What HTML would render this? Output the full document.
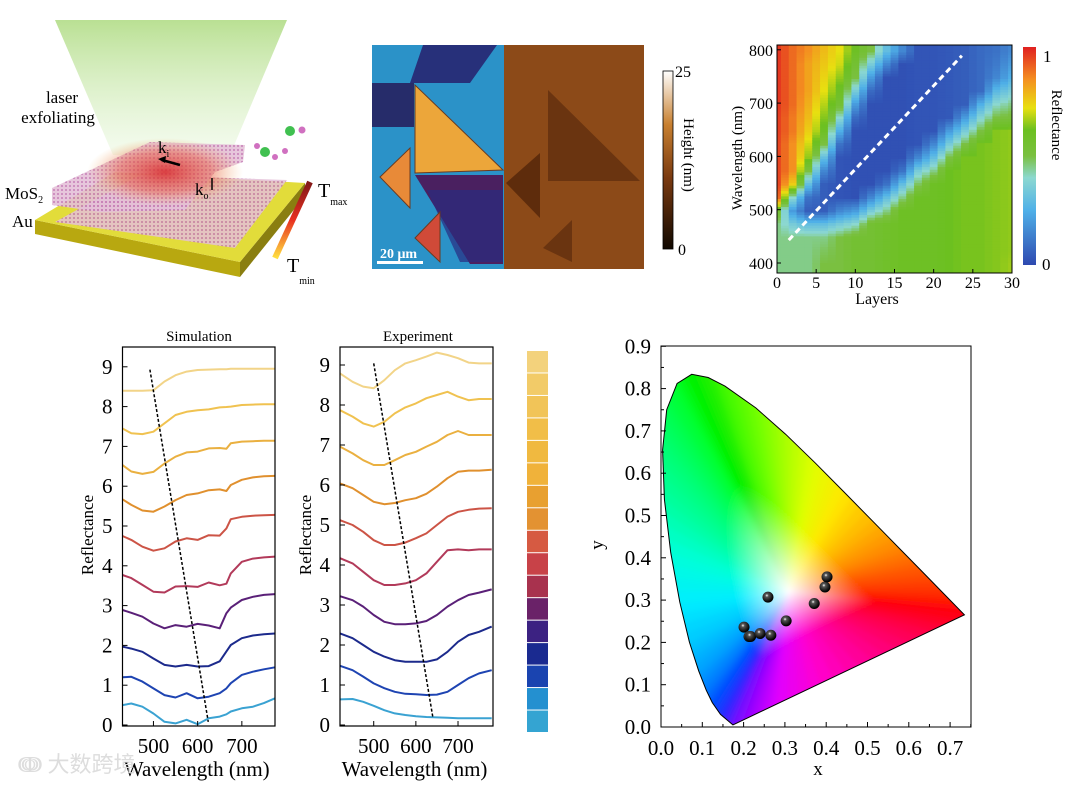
<!DOCTYPE html>
<html><head><meta charset="utf-8"><style>
html,body{margin:0;padding:0;background:#fff;}
svg text{font-family:"Liberation Serif",serif;}
</style></head><body>
<svg id="fig" width="1068" height="781" viewBox="0 0 1068 781" xmlns="http://www.w3.org/2000/svg">
<defs>
<linearGradient id="cone" x1="0" y1="0" x2="0" y2="1"><stop offset="0" stop-color="#a8d878" stop-opacity="0.8"/><stop offset="1" stop-color="#e0f4d0" stop-opacity="0.35"/></linearGradient>
<radialGradient id="hot" cx="0.5" cy="0.5" r="0.5"><stop offset="0" stop-color="#d82828" stop-opacity="0.85"/><stop offset="0.6" stop-color="#e86040" stop-opacity="0.5"/><stop offset="1" stop-color="#f0b060" stop-opacity="0"/></radialGradient>
<pattern id="lat" width="4" height="4" patternUnits="userSpaceOnUse"><rect width="4" height="4" fill="#e4c0d8"/><circle cx="2" cy="2" r="1" fill="#c070b0"/></pattern>
<linearGradient id="tbar" x1="0" y1="1" x2="0" y2="0"><stop offset="0" stop-color="#ffe040"/><stop offset="0.5" stop-color="#e83020"/><stop offset="1" stop-color="#801818"/></linearGradient>
<linearGradient id="hbar" x1="0" y1="1" x2="0" y2="0"><stop offset="0" stop-color="#100800"/><stop offset="0.4" stop-color="#7a3a10"/><stop offset="0.7" stop-color="#c88030"/><stop offset="1" stop-color="#ffffff"/></linearGradient>
<linearGradient id="rbar" x1="0" y1="1" x2="0" y2="0"><stop offset="0" stop-color="#2e49b0"/><stop offset="0.25" stop-color="#4fb0e8"/><stop offset="0.4" stop-color="#8cd8d0"/><stop offset="0.5" stop-color="#7ac040"/><stop offset="0.62" stop-color="#6cc020"/><stop offset="0.72" stop-color="#e8e010"/><stop offset="0.85" stop-color="#f49020"/><stop offset="1" stop-color="#e02020"/></linearGradient>
<clipPath id="hmclip"><rect x="777" y="45" width="235" height="228"/></clipPath>
<clipPath id="cieclip"><path id="locusclip" d=""/></clipPath>
<filter id="blur2"><feGaussianBlur stdDeviation="2.5"/></filter>
</defs>

<g>
<polygon points="55,20 287,20 230,155 113,155" fill="url(#cone)"/>
<text x="62" y="103" font-size="17" text-anchor="middle">laser</text>
<text x="58" y="123" font-size="17" text-anchor="middle">exfoliating</text>
<polygon points="35,220 240,262 240,277 35,234" fill="#b8a810"/>
<polygon points="240,262 305,183 305,196 240,277" fill="#8a7e10"/>
<polygon points="35,220 115,172 305,183 240,262" fill="#e2dc3a"/>
<polygon points="55,222 140,175 287,180 235,248" fill="url(#lat)" opacity="0.85"/>
<polygon points="52,188 150,142 245,145 243,162 215,172 185,210 100,212 52,205" fill="url(#lat)" opacity="0.9"/>
<ellipse cx="165" cy="172" rx="78" ry="34" fill="url(#hot)"/>
<line x1="180" y1="165" x2="162" y2="160" stroke="#000" stroke-width="2.5"/>
<polygon points="158,159 166,156 165,163" fill="#000"/>
<text x="158" y="153" font-size="17">k<tspan font-size="10" dy="4">i</tspan></text>
<text x="195" y="195" font-size="17">k<tspan font-size="10" dy="4">o</tspan></text>
<line x1="212" y1="178" x2="212" y2="190" stroke="#000" stroke-width="1.5"/>
<text x="5" y="199" font-size="17">MoS<tspan font-size="10" dy="4">2</tspan></text>
<text x="12" y="227" font-size="17">Au</text>
<g><circle cx="290" cy="131" r="5" fill="#40c050"/><circle cx="302" cy="130" r="3.5" fill="#d070c0"/><circle cx="285" cy="151" r="3" fill="#d070c0"/><circle cx="265" cy="152" r="5" fill="#40c050"/><circle cx="257" cy="146" r="3" fill="#d070c0"/><circle cx="275" cy="157" r="3" fill="#d070c0"/></g>
<line x1="275" y1="258" x2="310" y2="182" stroke="url(#tbar)" stroke-width="6"/>
<text x="318" y="197" font-size="20">T<tspan font-size="10" dy="8">max</tspan></text>
<text x="287" y="272" font-size="20">T<tspan font-size="10" dy="12">min</tspan></text>
</g>

<g>
<rect x="372" y="45" width="132" height="224" fill="#2b92c8"/>
<polygon points="423,45 497,45 470,83 410,83" fill="#27307a"/>
<rect x="372" y="83" width="42" height="44" fill="#262c6a"/>
<polygon points="415,85 415,173 503,170" fill="#eca63a" stroke="#6a3a20" stroke-width="1"/>
<polygon points="415,175 503,175 503,264 470,264" fill="#4a2060"/>
<polygon points="427,190 503,190 503,262 460,262" fill="#2a2c80" opacity="0.7"/>
<polygon points="380,177 410,148 410,208" fill="#e88a38" stroke="#6a3a20"/>
<polygon points="415,238 440,212 440,262" fill="#d04a38" stroke="#6a3a20"/>
<rect x="377" y="261" width="46" height="3" fill="#fff"/>
<text x="380" y="258" font-size="14" font-weight="bold" fill="#fff">20 μm</text>
<rect x="504" y="45" width="140" height="224" fill="#8c4a18"/>
<polygon points="548,90 548,181 640,181" fill="#6a3410"/>
<polygon points="506,183 540,153 540,218" fill="#5e2c0c"/>
<polygon points="543,248 572,220 572,262" fill="#6a3410"/>
<rect x="663" y="71" width="10" height="178" fill="url(#hbar)" stroke="#000" stroke-width="0.8"/>
<text x="675" y="77" font-size="16">25</text>
<text x="678" y="255" font-size="16">0</text>
<text x="0" y="0" font-size="15" transform="translate(684,155) rotate(90)" text-anchor="middle">Height (nm)</text>
</g>

<g id="heat"></g>
<g id="sim"></g>
<g id="exp"></g>
<g id="swatch"></g>
<g id="cie"></g>
<text x="18" y="772" font-size="22" fill="#ddd" font-family="'Noto Sans CJK SC',sans-serif">ↈ 大数跨境</text>
</svg>
<script>
// ---------- Heatmap data ----------
const hmLayers=[0,2,4,6,8,10,12,14,16,18,20,22,24,26,28,30];
const hmWaves=[800,775,750,725,700,675,650,625,600,575,550,525,500,475,450,425,400];
const hmValues=[
[0.97,0.97,0.97,0.97,0.97,0.96,0.96,0.95,0.95,0.95,0.95,0.9,0.55,0.45,0.45,0.45,0.45],
[0.9,0.9,0.9,0.9,0.9,0.88,0.88,0.85,0.85,0.85,0.75,0.4,0.2,0.35,0.45,0.45,0.45],
[0.85,0.82,0.82,0.82,0.8,0.78,0.75,0.7,0.65,0.5,0.3,0.1,0.05,0.3,0.45,0.45,0.45],
[0.78,0.76,0.74,0.72,0.68,0.64,0.6,0.5,0.3,0.15,0.05,0.05,0.05,0.3,0.45,0.48,0.5],
[0.72,0.7,0.65,0.6,0.55,0.4,0.25,0.1,0.03,0.03,0.03,0.03,0.15,0.35,0.5,0.5,0.5],
[0.6,0.55,0.5,0.35,0.2,0.08,0.02,0.02,0.02,0.02,0.02,0.02,0.2,0.4,0.55,0.55,0.55],
[0.5,0.35,0.2,0.08,0.02,0.02,0.02,0.02,0.02,0.02,0.02,0.15,0.35,0.55,0.55,0.55,0.55],
[0.3,0.15,0.02,0.02,0.02,0.02,0.02,0.02,0.02,0.02,0.1,0.3,0.45,0.58,0.58,0.58,0.58],
[0.15,0.02,0.02,0.02,0.02,0.02,0.02,0.02,0.02,0.1,0.3,0.45,0.6,0.6,0.6,0.6,0.6],
[0.03,0.03,0.03,0.03,0.03,0.03,0.03,0.03,0.15,0.35,0.48,0.6,0.6,0.6,0.6,0.6,0.6],
[0.03,0.03,0.03,0.03,0.03,0.03,0.03,0.15,0.3,0.45,0.6,0.6,0.6,0.6,0.6,0.6,0.6],
[0.04,0.04,0.04,0.04,0.04,0.04,0.2,0.35,0.5,0.62,0.62,0.62,0.62,0.62,0.62,0.62,0.62],
[0.05,0.05,0.05,0.05,0.05,0.2,0.35,0.5,0.63,0.63,0.63,0.63,0.63,0.63,0.63,0.63,0.63],
[0.08,0.08,0.08,0.08,0.25,0.38,0.5,0.63,0.63,0.63,0.63,0.63,0.63,0.63,0.63,0.63,0.63],
[0.1,0.12,0.15,0.28,0.4,0.5,0.64,0.64,0.64,0.64,0.64,0.64,0.64,0.64,0.64,0.64,0.64],
[0.15,0.2,0.25,0.35,0.45,0.52,0.65,0.65,0.65,0.65,0.65,0.65,0.65,0.65,0.65,0.65,0.66]];
const hmXTicks=[0,5,10,15,20,25,30];
const hmYTicks=[400,500,600,700,800];
const hmDash=[[1.5,443],[23.6,789]];

// ---------- Simulation data ----------
const simWaves=[430,450,475,500,525,550,575,600,625,650,665,675,700,725,750,775];
const sim0=[0.5,0.54,0.46,0.29,0.08,0.04,0.13,0.02,0.17,0.21,0.27,0.34,0.42,0.46,0.55,0.67];
const sim1=[1.2,1.21,1.09,0.92,0.75,0.69,0.8,0.67,0.71,0.8,0.92,1.05,1.26,1.34,1.4,1.45];
const sim2=[1.97,1.92,1.84,1.67,1.51,1.47,1.51,1.47,1.48,1.6,1.85,2.01,2.18,2.25,2.28,2.3];
const sim3=[2.89,2.82,2.72,2.55,2.43,2.51,2.47,2.54,2.5,2.43,2.81,2.95,3.14,3.22,3.27,3.29];
const sim4=[3.77,3.69,3.52,3.35,3.33,3.48,3.49,3.47,3.58,3.51,3.55,3.81,4.1,4.18,4.21,4.23];
const sim5=[4.75,4.65,4.48,4.38,4.44,4.61,4.69,4.65,4.77,4.76,4.94,5.17,5.23,5.26,5.27,5.28];
const sim6=[5.67,5.53,5.39,5.36,5.49,5.65,5.78,5.82,5.9,5.92,5.88,6.03,6.16,6.22,6.25,6.26];
const sim7=[6.53,6.37,6.31,6.36,6.57,6.74,6.85,6.87,6.95,6.96,6.94,7.08,7.12,7.13,7.14,7.14];
const sim8=[7.45,7.33,7.31,7.37,7.58,7.79,7.87,7.91,7.93,7.98,7.99,8.0,8.04,8.05,8.06,8.06];
const sim9=[8.4,8.4,8.4,8.41,8.63,8.79,8.88,8.92,8.93,8.94,8.94,8.95,8.95,8.95,8.95,8.95];
const simDash=[[492,8.93],[624,0.08]];
// ---------- Experiment data ----------
const expWaves=[420,450,475,500,525,550,575,600,625,650,675,700,725,750,780];
const exp0=[0.64,0.65,0.58,0.48,0.37,0.29,0.25,0.22,0.2,0.19,0.18,0.17,0.17,0.17,0.17];
const exp1=[1.48,1.37,1.21,1.04,0.92,0.83,0.78,0.77,0.75,0.76,0.83,1.0,1.17,1.29,1.37];
const exp2=[2.29,2.17,2.0,1.83,1.71,1.62,1.58,1.58,1.58,1.64,1.83,2.08,2.25,2.33,2.46];
const exp3=[3.22,3.12,2.96,2.75,2.58,2.52,2.52,2.54,2.6,2.75,2.96,3.12,3.25,3.31,3.39];
const exp4=[4.17,4.04,3.83,3.62,3.5,3.5,3.54,3.62,3.79,4.08,4.37,4.39,4.37,4.39,4.39];
const exp5=[5.12,5.0,4.83,4.62,4.5,4.5,4.56,4.67,4.79,5.0,5.21,5.33,5.38,5.41,5.42];
const exp6=[6.04,5.92,5.75,5.58,5.52,5.55,5.62,5.67,5.78,5.96,6.17,6.33,6.36,6.36,6.38];
const exp7=[6.96,6.79,6.62,6.5,6.5,6.62,6.75,6.83,6.96,7.08,7.25,7.35,7.25,7.25,7.25];
const exp8=[7.87,7.71,7.54,7.46,7.58,7.79,7.94,8.04,8.17,8.25,8.33,8.21,8.12,8.15,8.15];
const exp9=[8.79,8.58,8.46,8.42,8.62,8.87,9.04,9.12,9.21,9.31,9.25,9.17,9.06,9.04,9.04];
const expDash=[[500,9.04],[640,0.21]];
const curveColors=["#3aa2d2","#1e44b2","#1c2a8c","#5a2078","#b23a5a","#cc5446","#e0902e","#eab040","#f0c250","#f2d488"];
const yTicks=[0,1,2,3,4,5,6,7,8,9];
const xTicksNm=[500,600,700];
const swatchColors=["#f3d27c","#f2cb68","#f1c458","#f1be48","#f0b940","#f0b23a","#e8a030","#e39232","#d65a42","#c84248","#a8324e","#6a2268","#3c2282","#1a2a90","#1a44b0","#2490d0","#34a4d2"];
// ---------- CIE data ----------
const ciePointsX=[0.201,0.213,0.217,0.24,0.266,0.259,0.303,0.371,0.397,0.402];
const ciePointsY=[0.236,0.214,0.214,0.221,0.217,0.307,0.251,0.292,0.331,0.355];
const cieTicksX=[0,0.1,0.2,0.3,0.4,0.5,0.6,0.7];
const cieTicksY=[0,0.1,0.2,0.3,0.4,0.5,0.6,0.7,0.8,0.9];
const locusX=[0.1741,0.144,0.1241,0.1096,0.0913,0.0687,0.0454,0.0235,0.0082,0.0039,0.0139,0.0389,0.0743,0.1142,0.1547,0.2296,0.3016,0.3731,0.4441,0.5125,0.5752,0.627,0.6915,0.7347];
const locusY=[0.005,0.0297,0.0578,0.0868,0.1327,0.2007,0.295,0.4127,0.5384,0.6548,0.7502,0.812,0.8338,0.8262,0.8059,0.7543,0.6923,0.6245,0.5547,0.4866,0.4242,0.3725,0.3083,0.2653];
const locusCol=["#7010ff","#2030ff","#0050ff","#0078ff","#00a0ff","#00c8ff","#00eeff","#00ffd8","#00ffa0","#00ff78","#00ff50","#00ff28","#00f000","#20f000","#40f800","#70ff00","#a8ff00","#e0ff00","#ffe800","#ffb800","#ff8800","#ff5800","#ff2800","#ff0010"];

const NS="http://www.w3.org/2000/svg";
function mk(tag,parent,attrs){const e=document.createElementNS(NS,tag);for(const k in attrs)e.setAttribute(k,attrs[k]);parent.appendChild(e);return e;}
function txt(parent,x,y,s,size,anchor,extra){const t=mk('text',parent,Object.assign({x:x,y:y,'font-size':size,'text-anchor':anchor||'middle'},extra||{}));t.textContent=s;return t;}
function hex2rgb(h){return [parseInt(h.substr(1,2),16),parseInt(h.substr(3,2),16),parseInt(h.substr(5,2),16)];}
function mixHex(a,b,t){const A=hex2rgb(a),B=hex2rgb(b);return 'rgb('+A.map((q,i)=>Math.round(q+(B[i]-q)*t)).join(',')+')';}

const cmStops=[[0,[46,73,176]],[0.25,[79,176,232]],[0.4,[140,216,208]],[0.5,[122,192,64]],[0.62,[108,192,32]],[0.72,[232,224,16]],[0.85,[244,144,32]],[1,[224,32,32]]];
function cmap(v){v=Math.max(0,Math.min(1,v));for(let i=1;i<cmStops.length;i++){if(v<=cmStops[i][0]){const a=cmStops[i-1],b=cmStops[i];const t=(v-a[0])/(b[0]-a[0]);const c=a[1].map((q,j)=>Math.round(q+(b[1][j]-q)*t));return 'rgb('+c.join(',')+')';}}return 'rgb(224,32,32)';}

// ---------- Heatmap ----------
(function(){
const g=document.getElementById('heat');
const hx=L=>777+L*7.833, hy=w=>263-(w-400)*0.533;
const cells=mk('g',g,{'clip-path':'url(#hmclip)'});


function val(i,j,s,sub){let v=hmValues[i][j];if(j+1<hmWaves.length)v=v+(hmValues[i][j+1]-v)*s/sub;return v;}
for(let i=0;i<hmLayers.length;i++){
  const L=hmLayers[i];
  const hsub=(i+1<hmLayers.length)?2:1;
  for(let h=0;h<hsub;h++){
    const Lc=L+h;
    for(let j=0;j<hmWaves.length;j++){
      const sub=5;
      for(let s=0;s<sub;s++){
        const w0=hmWaves[j]-25*s/sub;
        let v=val(i,j,s,sub);
        if(h>0)v=(v+val(i+1,j,s,sub))/2;
        const top=(j===0&&s===0)?hy(815):hy(w0);
        const bot=(j===hmWaves.length-1)?hy(370):hy(w0-25/sub);
        const r=mk('rect',cells,{x:hx(Lc-0.5),y:top,width:7.833+0.6,height:bot-top+0.6,fill:cmap(v)});
        
        
        if(j===hmWaves.length-1)break;
      }
    }
  }
}
const dl=mk('line',g,{x1:hx(hmDash[0][0]),y1:hy(hmDash[0][1]),x2:hx(hmDash[1][0]),y2:hy(hmDash[1][1]),stroke:'#fff','stroke-width':3,'stroke-dasharray':'6,4'});


const fr=mk('rect',g,{x:777,y:45,width:235,height:228,fill:'none',stroke:'#000','stroke-width':1});


hmXTicks.forEach(t=>{mk('line',g,{x1:hx(t),y1:273,x2:hx(t),y2:269,stroke:'#000'});const e=txt(g,hx(t),288,String(t),16);

});
hmYTicks.forEach(t=>{mk('line',g,{x1:777,y1:hy(t),x2:781,y2:hy(t),stroke:'#000'});const e=txt(g,773,hy(t)+6,String(t),16,'end');

});
let e=txt(g,877,304,'Layers',16);


e=txt(g,0,0,'Wavelength (nm)',15,'middle',{transform:'translate(742,158) rotate(-90)'});


e=mk('rect',g,{x:1023,y:47,width:13,height:218,fill:'url(#rbar)'});


e=txt(g,1043,62,'1',17,'start');


e=txt(g,1042,270,'0',17,'start');


e=txt(g,0,0,'Reflectance',15,'middle',{transform:'translate(1052,125) rotate(90)'});


})();

// ---------- Spectra panels ----------
function panel(id,L,R,w0,w1,yZero,yUnit,waves,series,dash,title,titleX,ylabX){
  const g=document.getElementById(id);
  const X=w=>L+(w-w0)/(w1-w0)*(R-L), Y=v=>yZero-v*yUnit;
  series.forEach((s,i)=>{
    const d=s.map((v,k)=>(k?'L':'M')+X(waves[k]).toFixed(1)+','+Y(v).toFixed(1)).join('');
    const p=mk('path',g,{d:d,fill:'none',stroke:curveColors[i],'stroke-width':2,'stroke-linejoin':'round'});
    
    
  });
  const dl=mk('line',g,{x1:X(dash[0][0]),y1:Y(dash[0][1]),x2:X(dash[1][0]),y2:Y(dash[1][1]),stroke:'#000','stroke-width':1.5,'stroke-dasharray':'3,2'});
  
  
  const fr=mk('rect',g,{x:L,y:347,width:R-L,height:379,fill:'none',stroke:'#000','stroke-width':1.2});
  
  
  yTicks.forEach(t=>{mk('line',g,{x1:L,y1:Y(t),x2:L+5,y2:Y(t),stroke:'#000'});
    const e=txt(g,L-10,Y(t)+7,String(t),21,'end');
    
    });
  xTicksNm.forEach(t=>{mk('line',g,{x1:X(t),y1:726,x2:X(t),y2:721,stroke:'#000'});
    const e=txt(g,X(t),753,String(t),21);
    
    });
  let e=txt(g,(L+R)/2-2,776,'Wavelength (nm)',21);
  
  
  e=txt(g,0,0,'Reflectance',17,'middle',{transform:'translate('+ylabX+',535) rotate(-90)'});
  
  
  e=txt(g,titleX,341,title,15);
  
  
}
panel('sim',122.5,275,430,775,725,39.8,simWaves,[sim0,sim1,sim2,sim3,sim4,sim5,sim6,sim7,sim8,sim9],simDash,'Simulation',199,93);
panel('exp',340,493,420,783,725,40,expWaves,[exp0,exp1,exp2,exp3,exp4,exp5,exp6,exp7,exp8,exp9],expDash,'Experiment',418,311);

(function(){
const g=document.getElementById('swatch');
const h=(733-351)/swatchColors.length;
swatchColors.forEach((c,i)=>{const r=mk('rect',g,{x:527,y:351+i*h,width:21,height:h-1,fill:c});

});
})();

// ---------- CIE ----------
(function(){
const g=document.getElementById('cie');
const X=v=>661+v*413, Y=v=>727-v*423;
const W=[0.31,0.32];
let d='';
locusX.forEach((x,i)=>{d+=(i?'L':'M')+X(x).toFixed(1)+','+Y(locusY[i]).toFixed(1);});
d+='Z';
document.getElementById('locusclip').setAttribute('d',d);
const defs=document.querySelector('defs');
const fan=mk('g',g,{'clip-path':'url(#cieclip)'});


const inner=mk('g',fan,{filter:'url(#blur2)'});
const ptsX=locusX.slice(), ptsY=locusY.slice(), cols=locusCol.slice();
const purp=[[0.62,0.215,"#ff0050"],[0.50,0.165,"#ff0090"],[0.38,0.11,"#ff00d0"],[0.28,0.06,"#e000ff"],[0.22,0.03,"#a000ff"]];
purp.forEach(p=>{ptsX.push(p[0]);ptsY.push(p[1]);cols.push(p[2]);});
const n=ptsX.length, SUB=4;
let k=0;
for(let i=0;i<n;i++){
  const j=(i+1)%n;
  for(let s=0;s<SUB;s++){
    const t0=s/SUB,t1=(s+1)/SUB,tm=(s+0.5)/SUB;
    const ax=ptsX[i]+(ptsX[j]-ptsX[i])*t0, ay=ptsY[i]+(ptsY[j]-ptsY[i])*t0;
    const bx=ptsX[i]+(ptsX[j]-ptsX[i])*t1, by=ptsY[i]+(ptsY[j]-ptsY[i])*t1;
    const mx=(ax+bx)/2,my=(ay+by)/2;
    const col=mixHex(cols[i],cols[j],tm);
    const gid='cg'+(k++);
    const lg=mk('linearGradient',defs,{id:gid,gradientUnits:'userSpaceOnUse',x1:X(W[0]),y1:Y(W[1]),x2:X(mx),y2:Y(my)});
    mk('stop',lg,{offset:0,'stop-color':'#ffffff'});
    mk('stop',lg,{offset:0.5,'stop-color':col});
    mk('stop',lg,{offset:1,'stop-color':col});
    const ex=(ax-W[0])*1.4+W[0], ey=(ay-W[1])*1.4+W[1], fx=(bx-W[0])*1.4+W[0], fy=(by-W[1])*1.4+W[1];
    const p=mk('polygon',inner,{points:[X(W[0]),Y(W[1]),X(ex),Y(ey),X(fx),Y(fy)].map(v=>v.toFixed(1)).join(' '),fill:'url(#'+gid+')',stroke:'url(#'+gid+')','stroke-width':1.5});
    
    
  }
}
const lp=mk('path',g,{d:d,fill:'none',stroke:'#000','stroke-width':1});


const fr=mk('rect',g,{x:661,y:346,width:310,height:381,fill:'none',stroke:'#000','stroke-width':1});


const rg=mk('radialGradient',defs,{id:'ball',cx:0.4,cy:0.35,r:0.6});
mk('stop',rg,{offset:0,'stop-color':'#ffffff'});mk('stop',rg,{offset:0.25,'stop-color':'#555'});mk('stop',rg,{offset:1,'stop-color':'#000'});
ciePointsX.forEach((x,i)=>{const c=mk('circle',g,{cx:X(x),cy:Y(ciePointsY[i]),r:5.5,fill:'url(#ball)'});

});
cieTicksX.forEach(t=>{mk('line',g,{x1:X(t),y1:727,x2:X(t),y2:722,stroke:'#000'});mk('line',g,{x1:X(t+0.05),y1:727,x2:X(t+0.05),y2:724,stroke:'#000'});
const e=txt(g,X(t),755,t.toFixed(1),21);

});
cieTicksY.forEach(t=>{mk('line',g,{x1:661,y1:Y(t),x2:666,y2:Y(t),stroke:'#000'});if(t<0.9)mk('line',g,{x1:661,y1:Y(t+0.05),x2:664,y2:Y(t+0.05),stroke:'#000'});
const e=txt(g,651,Y(t)+7,t.toFixed(1),21,'end');

});
let e=txt(g,818,775,'x',19);


e=txt(g,0,0,'y',19,'middle',{transform:'translate(603,545) rotate(-90)'});


})();
</script>
</body></html>
